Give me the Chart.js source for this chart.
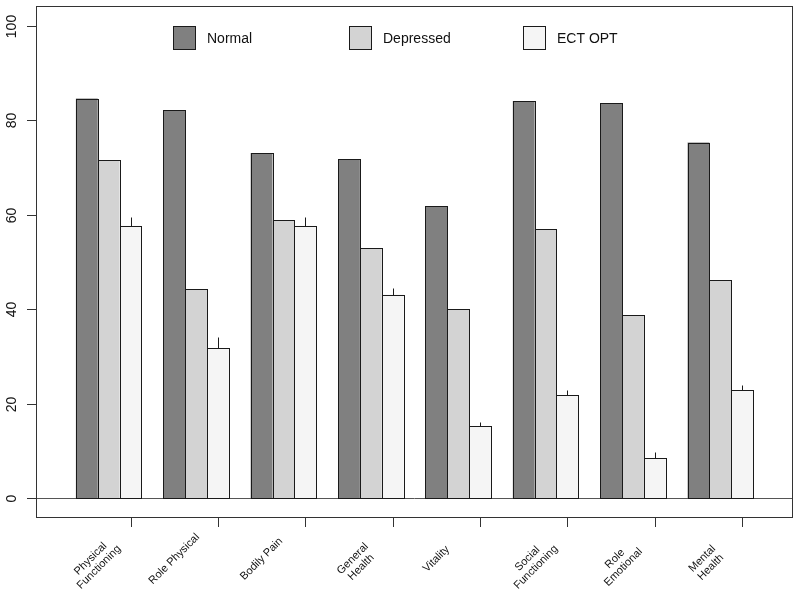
<!DOCTYPE html>
<html>
<head>
<meta charset="utf-8">
<script src="https://cdn.jsdelivr.net/npm/chart.js@4/dist/chart.umd.min.js"></script>
<style>
  html, body { margin: 0; padding: 0; background: #fff; }
  #wrap { width: 800px; height: 596px; }
</style>
</head>
<body>
<div id="wrap"><canvas id="chart" width="800" height="596"></canvas></div>
<script>
// SF-36 domain scores, three groups side by side (R barplot look)
const categories = [
  ['Physical', 'Functioning'], 'Role Physical', 'Bodily Pain', ['General', 'Health'],
  'Vitality', ['Social', 'Functioning'], ['Role', 'Emotional'], ['Mental', 'Health']
];
const seriesNames = ['Normal', 'Depressed', 'ECT OPT'];
const normal    = [84.6, 82.2, 73.1, 71.8, 61.8, 84.1, 83.6, 75.3];
const depressed = [71.5, 44.3, 58.8, 52.9, 40.0, 57.0, 38.8, 46.2];
const ectOpt    = [57.7, 31.7, 57.7, 43.1, 15.2, 21.8, 8.5, 22.9];
const ectErr    = [1.8, 2.5, 1.8, 1.3, 0.9, 1.2, 1.3, 1.1];
const yTicks = [0, 20, 40, 60, 80, 100];

const seriesColors = ['#808080', '#d3d3d3', '#f5f5f5'];
const FONT = '"Liberation Sans", Arial, Helvetica, sans-serif';

const toPoints = arr => arr.map((v, i) => ({ x: i, y: v }));
const px = v => Math.round(v) + 0.5;

const rStyle = {
  id: 'rStyle',
  beforeDatasetsDraw(chart) {
    const { ctx, chartArea: a, scales: { y } } = chart;
    const y0 = px(y.getPixelForValue(0));
    ctx.save();
    ctx.strokeStyle = '#555';
    ctx.lineWidth = 1;
    ctx.beginPath();
    ctx.moveTo(a.left, y0);
    ctx.lineTo(a.right, y0);
    ctx.stroke();
    ctx.restore();
  },
  afterDatasetsDraw(chart) {
    const { ctx, scales: { y } } = chart;
    ctx.save();
    ctx.strokeStyle = '#1a1a1a';
    ctx.lineWidth = 1;
    // crisp outlines around every bar
    chart.data.datasets.forEach((ds, d) => {
      chart.getDatasetMeta(d).data.forEach(bar => {
        const l = px(bar.x - bar.width / 2), r = px(bar.x + bar.width / 2);
        const t = px(bar.y), b = px(bar.base);
        ctx.strokeRect(l, t, r - l, b - t);
      });
    });
    // error bars on ECT OPT (upper only, no cap)
    chart.getDatasetMeta(2).data.forEach((bar, i) => {
      const x = px(bar.x);
      ctx.beginPath();
      ctx.moveTo(x, px(bar.y));
      ctx.lineTo(x, px(y.getPixelForValue(ectOpt[i] + ectErr[i])));
      ctx.stroke();
    });
    ctx.restore();
  },
  afterDraw(chart) {
    const { ctx, chartArea: a, scales: { x, y } } = chart;
    ctx.save();
    ctx.strokeStyle = '#333';
    ctx.lineWidth = 1;
    // box
    ctx.strokeRect(a.left - 0.5, a.top - 0.5, a.right - a.left + 1, a.bottom - a.top + 1);

    // y axis ticks + rotated labels
    ctx.fillStyle = '#111';
    ctx.font = '14px ' + FONT;
    ctx.textAlign = 'center';
    ctx.textBaseline = 'middle';
    yTicks.forEach(t => {
      const py = px(y.getPixelForValue(t));
      ctx.beginPath();
      ctx.moveTo(a.left - 10, py);
      ctx.lineTo(a.left, py);
      ctx.stroke();
      ctx.save();
      ctx.translate(a.left - 25, py);
      ctx.rotate(-Math.PI / 2);
      ctx.fillText(String(t), 0, 0);
      ctx.restore();
    });

    // x axis ticks + 45 degree labels
    const meta0 = chart.getDatasetMeta(0);
    ctx.font = '11px ' + FONT;
    categories.forEach((lab, i) => {
      const cx = x.getPixelForValue(i);
      const bw = meta0.data[i].width;
      const tx = px(cx + bw);
      ctx.beginPath();
      ctx.moveTo(tx, a.bottom);
      ctx.lineTo(tx, a.bottom + 10);
      ctx.stroke();
      const lines = Array.isArray(lab) ? lab : [lab];
      const shift = lines.length > 1 ? 8 : 0;
      ctx.save();
      ctx.translate(cx - bw + shift, a.bottom + 42 + shift / 2);
      ctx.rotate(-Math.PI / 4);
      lines.forEach((ln, k) => {
        ctx.fillText(ln, 0, (k - (lines.length - 1) / 2) * 12);
      });
      ctx.restore();
    });

    // legend
    const legendX = [173, 349, 523];
    ctx.font = '14px ' + FONT;
    ctx.textAlign = 'left';
    chart.data.datasets.forEach((ds, i) => {
      ctx.fillStyle = ds.backgroundColor;
      ctx.fillRect(legendX[i] + 0.5, 26.5, 22, 23);
      ctx.strokeStyle = '#1a1a1a';
      ctx.strokeRect(legendX[i] + 0.5, 26.5, 22, 23);
      ctx.fillStyle = '#111';
      ctx.fillText(ds.label, legendX[i] + 34, 39);
    });
    ctx.restore();
  }
};

const seriesData = [normal, depressed, ectOpt];

new Chart(document.getElementById('chart').getContext('2d'), {
  type: 'bar',
  data: {
    datasets: seriesData.map((arr, i) => ({
      label: seriesNames[i],
      data: toPoints(arr),
      backgroundColor: seriesColors[i],
      borderWidth: 0,
      categoryPercentage: 0.75,
      barPercentage: 1
    }))
  },
  options: {
    responsive: false,
    animation: false,
    devicePixelRatio: 1,
    layout: { padding: { left: 37, top: 7, right: 8, bottom: 79 } },
    plugins: { legend: { display: false }, tooltip: { enabled: false } },
    scales: {
      x: {
        type: 'linear', min: -0.82, max: 7.82, display: false, offset: false,
        grid: { offset: false },
        ticks: { stepSize: 1, includeBounds: false }
      },
      y: { min: -4, max: 104, display: false }
    }
  },
  plugins: [rStyle]
});
</script>
</body>
</html>
